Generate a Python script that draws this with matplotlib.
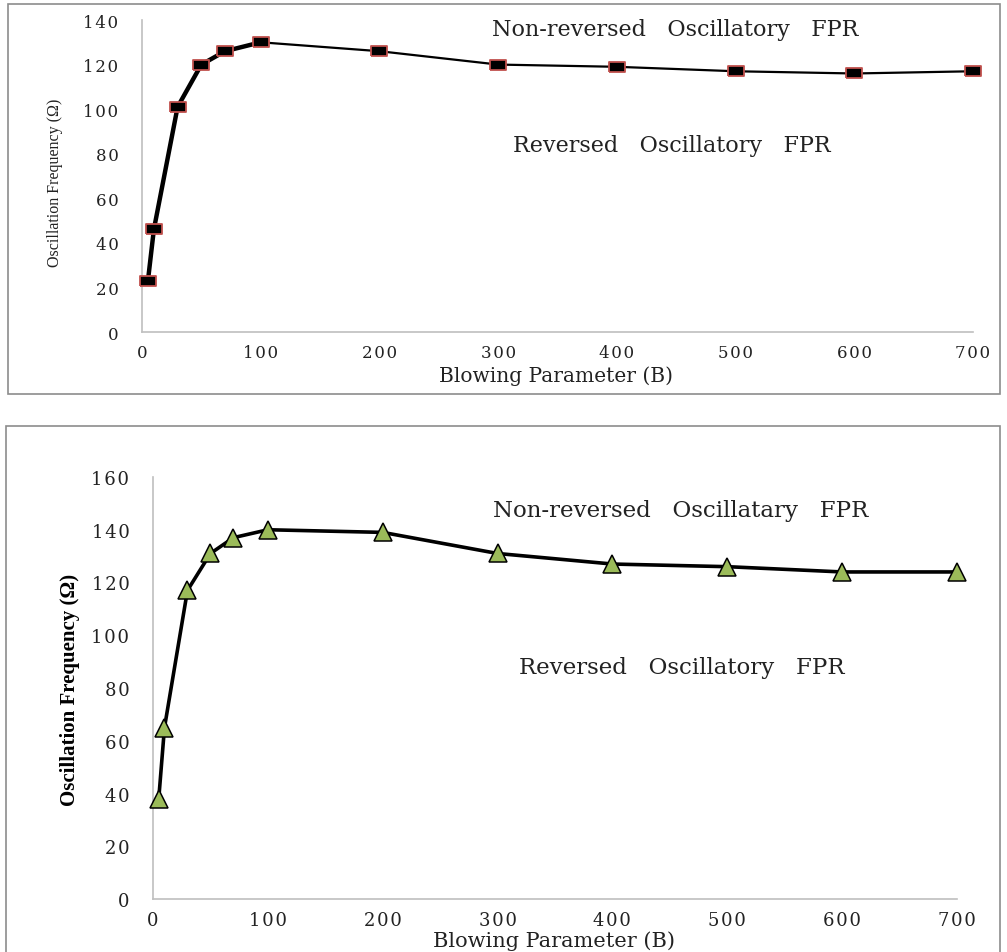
import numpy as np
import matplotlib.pyplot as plt
from matplotlib.patches import Rectangle
from matplotlib.ticker import FuncFormatter

# data
blowing = [5, 10, 30, 50, 70, 100, 200, 300, 400, 500, 600, 700]
freq_top = [23, 46, 101, 120, 126, 130, 126, 120, 119, 117, 116, 117]
freq_bottom = [38, 65, 117, 131, 137, 140, 139, 131, 127, 126, 124, 124]
x_ticks = [0, 100, 200, 300, 400, 500, 600, 700]
top_yticks = [0, 20, 40, 60, 80, 100, 120, 140]
bottom_yticks = [0, 20, 40, 60, 80, 100, 120, 140, 160]

TICKFONT = 'DejaVu Serif'
SERIF = 'Liberation Serif'


def spaced(v, pos):
    return '\u200a'.join(str(int(v)))


fig = plt.figure(figsize=(10.07, 9.53), dpi=100)
W, H = 1007.0, 953.0

# outer frames of the two panels
fig.patches.append(Rectangle((8 / W, 1 - 395 / H), 992 / W, 390 / H, transform=fig.transFigure,
                             fill=False, edgecolor='#8c8c8c', linewidth=1.2))
fig.patches.append(Rectangle((6 / W, 1 - 965 / H), 994 / W, 538 / H, transform=fig.transFigure,
                             fill=False, edgecolor='#8c8c8c', linewidth=1.2))


def style_axes(ax, yticks, size):
    ax.set_xlim(0, 700)
    ax.set_ylim(0, yticks[-1])
    ax.set_xticks(x_ticks)
    ax.set_yticks(yticks)
    for s in ['top', 'right']:
        ax.spines[s].set_visible(False)
    for s in ['left', 'bottom']:
        ax.spines[s].set_color('#bfbfbf')
        ax.spines[s].set_linewidth(1.2)
    ax.tick_params(length=0, labelsize=size, colors='#222222')
    ax.tick_params(axis='y', pad=17)
    ax.xaxis.set_major_formatter(FuncFormatter(spaced))
    ax.yaxis.set_major_formatter(FuncFormatter(spaced))
    for lab in ax.get_xticklabels() + ax.get_yticklabels():
        lab.set_fontfamily(TICKFONT)


# ---- top panel ----
ax1 = fig.add_axes([142 / W, 1 - 333 / H, 831 / W, 312 / H])
style_axes(ax1, top_yticks, 12)
ax1.tick_params(axis='x', pad=9)
ax1.plot(blowing[:6], freq_top[:6], color='black', lw=3.2, zorder=2)
ax1.plot(blowing[5:], freq_top[5:], color='black', lw=1.6, zorder=2)
rect = [(-1.6, -1), (1.6, -1), (1.6, 1), (-1.6, 1), (-1.6, -1)]
ax1.plot(blowing, freq_top, ls='none', marker=rect, ms=12, mfc='black',
         mec='#c0504d', mew=1.3, zorder=3, clip_on=False)
ax1.text(449, 136, 'Non-reversed   Oscillatory   FPR', ha='center', va='center',
         fontfamily=TICKFONT, fontsize=16, color='#222222')
ax1.text(446, 84, 'Reversed   Oscillatory   FPR', ha='center', va='center',
         fontfamily=TICKFONT, fontsize=16, color='#222222')
fig.text(556 / W, 1 - 376 / H, 'Blowing Parameter (B)', ha='center', va='center',
         fontfamily=TICKFONT, fontsize=14.5, color='#222222')
fig.text(55 / W, 1 - 183 / H, 'Oscillation Frequency (\u03a9)', ha='center', va='center',
         rotation=90, fontfamily=SERIF, fontsize=11.5, color='#222222')

# ---- bottom panel ----
ax2 = fig.add_axes([153 / W, 1 - 900 / H, 804 / W, 422 / H])
style_axes(ax2, bottom_yticks, 13)
ax2.tick_params(axis='x', pad=9)
ax2.plot(blowing, freq_bottom, color='black', lw=2.6, zorder=2)
ax2.plot(blowing, freq_bottom, ls='none', marker='^', ms=13, mfc='#9bbb59',
         mec='black', mew=1.1, zorder=3, clip_on=False)
ax2.text(459, 147.5, 'Non-reversed   Oscillatary   FPR', ha='center', va='center',
         fontfamily=TICKFONT, fontsize=16.5, color='#222222')
ax2.text(460, 88, 'Reversed   Oscillatory   FPR', ha='center', va='center',
         fontfamily=TICKFONT, fontsize=16.5, color='#222222')
fig.text(554 / W, 1 - 947 / H, 'Blowing Parameter (B)', ha='center', va='baseline',
         fontfamily=TICKFONT, fontsize=15, color='#222222')
fig.text(70 / W, 1 - 690 / H, 'Oscillation Frequency (\u03a9)', ha='center', va='center',
         rotation=90, fontfamily=SERIF, fontweight='bold', fontsize=15, color='black')

fig.savefig('out.png', dpi=100, facecolor='white')
